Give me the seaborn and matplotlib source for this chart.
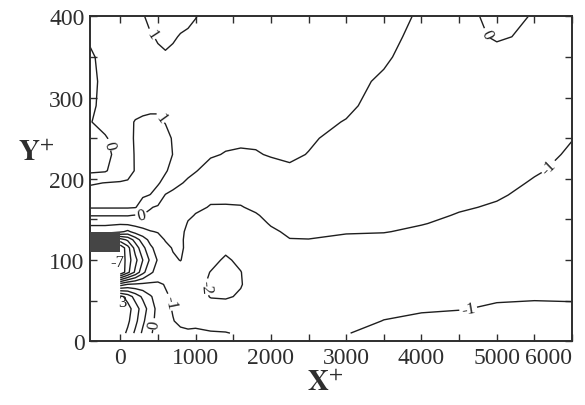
import numpy as np
import matplotlib
matplotlib.use('Agg')
import matplotlib.pyplot as plt
import seaborn as sns
from matplotlib.ticker import MultipleLocator

nan = np.nan

# grid nodes (X+, Y+)
x_nodes = [-400, -200, 0, 100, 200, 300, 400, 500, 600, 700, 800, 900, 1000,
           1200, 1400, 1600, 1800, 2000, 2250, 2500, 3000, 3500, 4000, 4500,
           5000, 5500, 6000]
y_nodes = [10, 25, 40, 55, 70, 85, 100, 115, 125, 135, 145, 155, 165, 180,
           195, 210, 230, 250, 270, 290, 320, 350, 375, 400]

# field values, one column per x node (bottom -> top)
c_m400 = [nan] * 9 + [-1.3, -0.9, 0.05, 1.1, 1.4, 0.9, -0.2, -0.4, -0.3, -0.05, -0.2, -0.3, -0.2, 0.2, 0.4]
c_m200 = [nan] * 9 + [-1.3, -0.9, 0.05, 1.1, 1.4, 1.02, -0.1, -0.3, -0.1, 0.35, 0.3, 0.3, 0.4, 0.5, 0.6]
c_0 = [3.5, 4.0, 4.2, 3.3, -1.5, -8.0, -7.9, -7.8, -5.5, -1.8, -0.9, 0.05, 1.1, 1.4, 1.05, 0.6, 0.4, 0.5, 0.6, 0.6, 0.6, 0.6, 0.7, 0.8]
c_100 = [2.8, 3.2, 3.4, 2.6, -0.95, -6.3, -6.5, -6.4, -4.8, -2.2, -0.8, 0.05, 1.1, 1.4, 1.1, 0.7, 0.5, 0.7, 0.8, 0.7, 0.6, 0.6, 0.7, 0.8]
c_200 = [1.8, 2.3, 2.5, 1.6, -0.85, -4.8, -5.3, -4.6, -3.6, -1.6, -0.7, -0.05, 1.05, 1.4, 1.1, 1.05, 1.1, 1.1, 1.05, 0.7, 0.6, 0.65, 0.75, 0.85]
c_300 = [0.8, 1.2, 1.5, 0.8, -0.8, -3.3, -4.0, -3.3, -2.5, -1.3, -0.6, -0.05, 0.6, 1.1, 1.3, 1.4, 1.4, 1.3, 1.15, 0.75, 0.65, 0.75, 0.85, 0.95]
c_400 = [0.1, 0.3, 0.5, 0.1, -0.8, -2.2, -2.8, -2.2, -1.7, -1.05, -0.55, -0.15, 0.05, 0.98, 1.35, 1.45, 1.45, 1.4, 1.2, 0.8, 0.7, 0.85, 0.95, 1.15]
c_500 = [-0.3, -0.3, -0.3, -0.4, -0.85, -1.6, -1.9, -1.6, -1.3, -0.95, -0.55, -0.25, -0.1, 0.6, 1.1, 1.4, 1.45, 1.4, 1.2, 0.8, 0.75, 0.9, 1.05, 1.25]
c_600 = [-0.5, -0.6, -0.8, -0.9, -1.05, -1.45, -1.55, -1.2, -0.95, -0.9, -0.5, -0.3, -0.2, -0.05, 0.7, 1.1, 1.35, 1.35, 0.95, 0.8, 0.75, 0.95, 1.1, 1.2]
c_700 = [-0.7, -0.97, -1.05, -1.1, -1.25, -1.35, -1.1, -0.95, -0.85, -0.8, -0.55, -0.4, -0.3, -0.15, 0.2, 0.7, 0.98, 0.9, 0.8, 0.75, 0.8, 0.9, 1.05, 1.2]
c_800 = [-0.85, -1.15, -1.2, -1.3, -1.4, -1.3, -0.98, -0.9, -0.85, -0.9, -0.7, -0.55, -0.45, -0.3, 0.05, 0.3, 0.5, 0.55, 0.6, 0.65, 0.75, 0.85, 0.97, 1.15]
c_900 = [-0.9, -1.2, -1.35, -1.45, -1.55, -1.5, -1.2, -1.15, -1.25, -1.1, -1.05, -0.9, -0.7, -0.45, -0.1, 0.15, 0.4, 0.5, 0.55, 0.6, 0.7, 0.8, 0.93, 1.1]
c_1000 = [-0.9, -1.15, -1.4, -1.55, -1.7, -1.7, -1.5, -1.35, -1.3, -1.2, -1.12, -1.03, -0.9, -0.7, -0.35, 0.05, 0.3, 0.4, 0.45, 0.5, 0.6, 0.7, 0.85, 1.02]
c_1200 = [-0.95, -1.25, -1.6, -2.05, -2.15, -2.02, -1.8, -1.55, -1.4, -1.3, -1.2, -1.12, -1.03, -0.9, -0.65, -0.35, 0.1, 0.3, 0.35, 0.4, 0.45, 0.55, 0.65, 0.8]
c_1400 = [-0.98, -1.2, -1.6, -2.1, -2.3, -2.2, -2.1, -1.85, -1.6, -1.45, -1.3, -1.18, -1.05, -0.85, -0.6, -0.35, -0.05, 0.2, 0.3, 0.35, 0.4, 0.45, 0.55, 0.65]
c_1600 = [-1.05, -1.2, -1.5, -1.9, -2.05, -2.02, -1.85, -1.65, -1.5, -1.4, -1.3, -1.15, -1.03, -0.85, -0.6, -0.4, -0.1, 0.15, 0.25, 0.3, 0.35, 0.4, 0.45, 0.55]
c_1800 = [-1.15, -1.25, -1.4, -1.55, -1.6, -1.6, -1.55, -1.45, -1.4, -1.3, -1.2, -1.05, -0.9, -0.75, -0.6, -0.4, -0.05, 0.12, 0.2, 0.25, 0.3, 0.35, 0.4, 0.45]
c_2000 = [-1.2, -1.3, -1.35, -1.4, -1.4, -1.4, -1.35, -1.25, -1.2, -1.1, -0.95, -0.85, -0.75, -0.6, -0.45, -0.25, 0.05, 0.15, 0.2, 0.22, 0.25, 0.3, 0.35, 0.4]
c_2250 = [-1.2, -1.25, -1.3, -1.3, -1.3, -1.25, -1.2, -1.1, -1.02, -0.9, -0.8, -0.7, -0.6, -0.45, -0.3, -0.1, 0.1, 0.15, 0.18, 0.2, 0.22, 0.25, 0.3, 0.35]
c_2500 = [-1.15, -1.2, -1.25, -1.25, -1.25, -1.2, -1.15, -1.07, -1.01, -0.9, -0.8, -0.72, -0.65, -0.52, -0.4, -0.25, -0.02, 0.08, 0.12, 0.15, 0.18, 0.2, 0.22, 0.25]
c_3000 = [-1.02, -1.15, -1.2, -1.22, -1.22, -1.2, -1.15, -1.1, -1.05, -0.98, -0.9, -0.82, -0.75, -0.65, -0.55, -0.45, -0.32, -0.2, -0.02, 0.08, 0.12, 0.15, 0.17, 0.2]
c_3500 = [-0.85, -0.99, -1.1, -1.15, -1.18, -1.18, -1.15, -1.1, -1.06, -0.99, -0.93, -0.85, -0.78, -0.68, -0.6, -0.52, -0.42, -0.33, -0.25, -0.17, -0.06, 0.06, 0.12, 0.15]
c_4000 = [-0.75, -0.9, -1.05, -1.12, -1.15, -1.15, -1.13, -1.1, -1.07, -1.04, -0.99, -0.93, -0.87, -0.78, -0.7, -0.63, -0.55, -0.48, -0.42, -0.36, -0.28, -0.2, -0.12, -0.05]
c_4500 = [-0.7, -0.85, -1.02, -1.1, -1.14, -1.15, -1.14, -1.12, -1.1, -1.08, -1.05, -1.02, -0.97, -0.9, -0.82, -0.75, -0.67, -0.6, -0.54, -0.48, -0.42, -0.36, -0.32, -0.3]
c_5000 = [-0.65, -0.8, -0.95, -1.05, -1.1, -1.12, -1.12, -1.12, -1.11, -1.1, -1.08, -1.06, -1.03, -0.97, -0.9, -0.83, -0.75, -0.67, -0.6, -0.52, -0.42, -0.3, 0.1, 0.25]
c_5500 = [-0.6, -0.75, -0.9, -1.05, -1.1, -1.12, -1.13, -1.13, -1.13, -1.12, -1.11, -1.1, -1.09, -1.07, -1.03, -0.97, -0.88, -0.8, -0.72, -0.63, -0.5, -0.35, -0.15, -0.05]
c_6000 = [-0.6, -0.75, -0.93, -1.05, -1.1, -1.12, -1.13, -1.14, -1.14, -1.14, -1.14, -1.13, -1.13, -1.12, -1.1, -1.08, -1.05, -0.99, -0.93, -0.85, -0.72, -0.55, -0.4, -0.3]

levels = [-7, -6, -5, -4, -3, -2, -1, 0, 1, 2, 3]

# where the reference puts the inline contour labels
label_spots = {
    1: [(385, 376), (520, 274)],
    0: [(280, 157), (-240, 240), (4930, 381), (450, 21)],
    -1: [(5650, 218), (4620, 40), (650, 48)],
    -2: [(1140, 67)],
}
# labels that sit beside their lines
side_labels = [('-7', -40, 97), ('3', 31, 48)]

obstacle_x = [-400, 0]
obstacle_y = [110, 135]

x_ticks = [0, 1000, 2000, 3000, 4000, 5000, 6000]
x_tick_labels = ['0', '1000', '2000', '3000', '4000', '5000', '6000']
y_ticks = [0, 100, 200, 300, 400]
y_tick_labels = ['0', '100', '200', '300', '400']

columns = [c_m400, c_m200, c_0, c_100, c_200, c_300, c_400, c_500, c_600,
           c_700, c_800, c_900, c_1000, c_1200, c_1400, c_1600, c_1800,
           c_2000, c_2250, c_2500, c_3000, c_3500, c_4000, c_4500, c_5000,
           c_5500, c_6000]
Z = np.ma.masked_invalid(np.array(columns, dtype=float).T)
X, Y = np.meshgrid(x_nodes, y_nodes)

sns.set_theme(style='ticks')
plt.rcParams['font.family'] = ['Liberation Serif', 'DejaVu Serif']
plt.rcParams['mathtext.fontset'] = 'stix'
plt.rcParams['contour.negative_linestyle'] = 'solid'

ink = '#1e1e1e'
grey = '#2e2e2e'

fig, ax = plt.subplots(figsize=(5.85, 4.06), dpi=100)
fig.patch.set_facecolor('white')
ax.set_facecolor('white')
fig.subplots_adjust(left=0.154, right=0.978, bottom=0.157, top=0.957)

for lev in levels:
    cs = ax.contour(X, Y, Z, levels=[lev], colors=ink, linewidths=1.0,
                    linestyles='solid')
    if lev in label_spots:
        ax.clabel(cs, manual=label_spots[lev], inline=True, inline_spacing=2,
                  fontsize=12, colors=ink, fmt=lambda v: f'{v:.0f}')

for txt, tx, ty in side_labels:
    ax.text(tx, ty, txt, ha='center', va='center', fontsize=12, color=ink)

ax.fill_between(obstacle_x, obstacle_y[0], obstacle_y[1], color='#454545',
                linewidth=0, zorder=5)

ax.set_xlim(-400, 6000)
ax.set_ylim(0, 400)

ax.set_xticks(x_ticks)
ax.set_xticklabels(x_tick_labels)
ax.set_yticks(y_ticks)
ax.set_yticklabels(y_tick_labels)
ax.xaxis.set_minor_locator(MultipleLocator(500))
ax.yaxis.set_minor_locator(MultipleLocator(50))
ax.tick_params(which='both', direction='in', top=True, right=True,
               length=5, width=1.0, color=grey)
ax.tick_params(which='major', labelsize=17, labelcolor=grey, pad=4)
ax.xaxis.get_major_ticks()[-1].label1.set_horizontalalignment('right')

for sp in ax.spines.values():
    sp.set_linewidth(1.4)
    sp.set_color(grey)

ax.set_xlabel(r'$\mathbf{X}^{+}$', fontsize=21, color=grey, ha='center', va='center')
ax.set_ylabel(r'$\mathbf{Y}^{+}$', fontsize=21, color=grey, rotation=0,
              ha='center', va='center')
ax.xaxis.set_label_coords(0.488, -0.13)
ax.yaxis.set_label_coords(-0.112, 0.58)

plt.savefig('out.png', dpi=100, facecolor='white')
